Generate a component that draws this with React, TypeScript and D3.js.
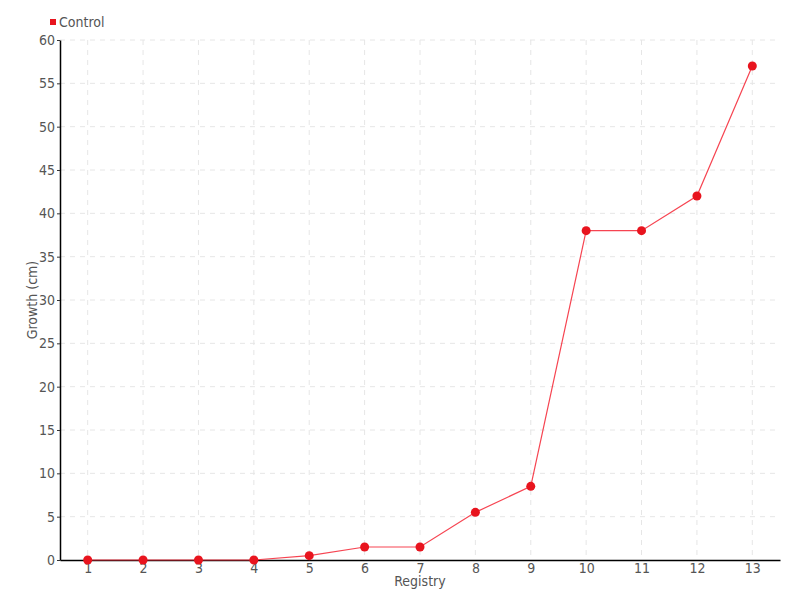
import React, { useEffect, useRef } from 'react';
import * as d3 from 'd3';

const registry = ['1', '2', '3', '4', '5', '6', '7', '8', '9', '10', '11', '12', '13'];
const control = [0, 0, 0, 0, 0.5, 1.5, 1.5, 5.5, 8.5, 38, 38, 42, 57];
const yTicks = [0, 5, 10, 15, 20, 25, 30, 35, 40, 45, 50, 55, 60];

const FONT = '"DejaVu Sans Condensed", "Liberation Sans Narrow", sans-serif';

export default function App() {
  const svgRef = useRef<SVGSVGElement>(null);

  useEffect(() => {
    const width = 800;
    const height = 600;
    const margin = { top: 40, right: 20, bottom: 40, left: 60 };
    const innerWidth = width - margin.left - margin.right;
    const innerHeight = height - margin.top - margin.bottom;

    const svg = d3.select(svgRef.current);
    svg.selectAll('*').remove();

    const g = svg.append('g').attr('transform', `translate(${margin.left},${margin.top})`);

    const x = d3.scalePoint<string>().domain(registry).range([0, innerWidth]).padding(0.5);
    const y = d3.scaleLinear().domain([0, 60]).range([innerHeight, 0]);

    // grid
    g.append('g')
      .selectAll('line')
      .data(yTicks.slice(1))
      .enter()
      .append('line')
      .attr('x1', 0)
      .attr('x2', innerWidth)
      .attr('y1', d => y(d))
      .attr('y2', d => y(d))
      .attr('stroke', '#e6e6e6')
      .attr('stroke-dasharray', '5,5');

    g.append('g')
      .selectAll('line')
      .data(registry)
      .enter()
      .append('line')
      .attr('x1', d => x(d)!)
      .attr('x2', d => x(d)!)
      .attr('y1', 0)
      .attr('y2', innerHeight)
      .attr('stroke', '#e6e6e6')
      .attr('stroke-dasharray', '5,5');

    // y axis
    const yAxis = g.append('g').call(d3.axisLeft(y).tickValues(yTicks).tickSize(3).tickSizeOuter(0));
    yAxis.select('.domain').attr('stroke', '#000').attr('stroke-width', 1.5);
    yAxis.selectAll('.tick line').attr('stroke', '#333');
    yAxis.selectAll('.tick text')
      .attr('x', -5)
      .attr('fill', '#555')
      .attr('font-family', FONT)
      .attr('font-size', 14);

    // x axis
    const xAxis = g.append('g')
      .attr('transform', `translate(0,${innerHeight})`)
      .call(d3.axisBottom(x).tickSize(0).tickSizeOuter(0));
    xAxis.select('.domain').attr('stroke', '#000').attr('stroke-width', 1.5);
    xAxis.selectAll('.tick text')
      .attr('y', 3)
      .attr('dy', '0.71em')
      .attr('fill', '#555')
      .attr('font-family', FONT)
      .attr('font-size', 14);

    // axis titles
    g.append('text')
      .attr('x', innerWidth / 2)
      .attr('y', innerHeight + 26)
      .attr('text-anchor', 'middle')
      .attr('fill', '#555')
      .attr('font-family', FONT)
      .attr('font-size', 14)
      .text('Registry');

    g.append('text')
      .attr('transform', 'rotate(-90)')
      .attr('x', -innerHeight / 2)
      .attr('y', -23)
      .attr('text-anchor', 'middle')
      .attr('fill', '#555')
      .attr('font-family', FONT)
      .attr('font-size', 14)
      .text('Growth (cm)');

    // line
    const line = d3.line<number>()
      .x((_, i) => x(registry[i])!)
      .y(d => y(d));

    g.append('path')
      .datum(control)
      .attr('d', line)
      .attr('fill', 'none')
      .attr('stroke', '#f5303e')
      .attr('stroke-opacity', 0.9)
      .attr('stroke-width', 1.2);

    g.selectAll('circle')
      .data(control)
      .enter()
      .append('circle')
      .attr('cx', (_, i) => x(registry[i])!)
      .attr('cy', d => y(d))
      .attr('r', 4.5)
      .attr('fill', '#e8141e');

    // legend
    const legend = svg.append('g').attr('transform', 'translate(50,18)');
    legend.append('rect')
      .attr('width', 6)
      .attr('height', 6)
      .attr('y', 1)
      .attr('fill', '#e8141e');
    legend.append('text')
      .attr('x', 9)
      .attr('y', 9)
      .attr('fill', '#555')
      .attr('font-family', FONT)
      .attr('font-size', 14)
      .text('Control');
  }, []);

  return <svg ref={svgRef} width={800} height={600} style={{ position: 'absolute', left: 0, top: 0 }} />;
}
